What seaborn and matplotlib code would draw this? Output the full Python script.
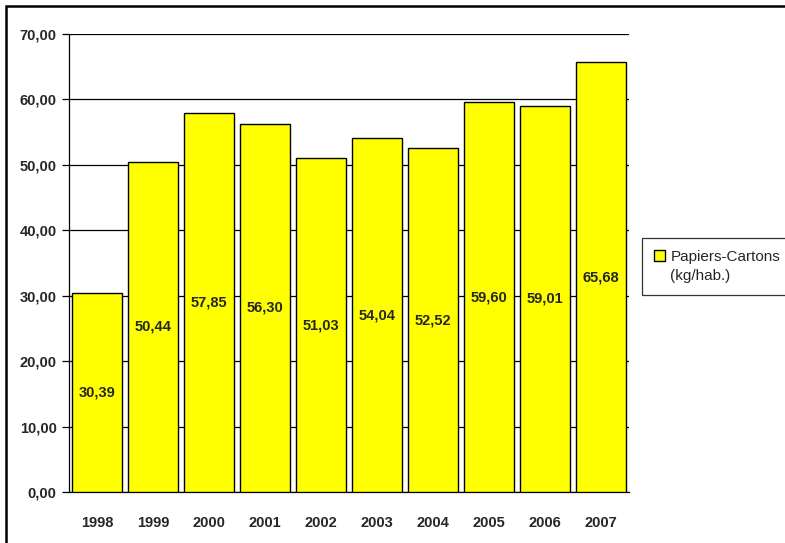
import matplotlib
matplotlib.use("Agg")
import matplotlib.pyplot as plt
import matplotlib.patches as mpatches
from matplotlib.ticker import FuncFormatter, FixedLocator
import seaborn as sns
import pandas as pd

years = ["1998", "1999", "2000", "2001", "2002", "2003", "2004", "2005", "2006", "2007"]
values = [30.39, 50.44, 57.85, 56.30, 51.03, 54.04, 52.52, 59.60, 59.01, 65.68]
series_name = "Papiers-Cartons"
series_unit = "(kg/hab.)"

df = pd.DataFrame({"year": years, "value": values})

sns.set_style("white")
plt.rcParams["font.family"] = ["Liberation Sans Narrow", "Liberation Sans", "DejaVu Sans"]

fig = plt.figure(figsize=(7.85, 5.43), dpi=100)
ax = fig.add_axes([0.0879, 0.0939, 0.7131, 0.8435])

sns.barplot(data=df, x="year", y="value", color="#ffff00", width=0.9,
            edgecolor="black", linewidth=1.0, saturation=1, ax=ax, zorder=3)

# value labels in the middle of each bar
for i, v in enumerate(values):
    ax.text(i, v / 2, f"{v:.2f}".replace(".", ","), ha="center", va="center",
            fontsize=10.5, fontweight="bold", zorder=4)

ax.set_ylim(0, 70)
ax.set_xlim(-0.5, len(years) - 0.5)
ax.set_yticks(range(0, 71, 10))
ax.yaxis.set_major_formatter(FuncFormatter(lambda y, _: f"{y:.2f}".replace(".", ",")))
ax.grid(axis="y", color="black", linewidth=0.9, zorder=0)
ax.set_axisbelow(True)

# ticks between categories
ax.xaxis.set_minor_locator(FixedLocator([i - 0.5 for i in range(len(years) + 1)]))
ax.tick_params(axis="x", which="major", length=0, pad=17, labelsize=10.5)
ax.tick_params(axis="x", which="minor", length=5, width=0.9, color="black", direction="out")
ax.tick_params(axis="y", length=5, width=0.9, color="black", direction="out", labelsize=10.5, pad=4)
for lab in ax.get_xticklabels() + ax.get_yticklabels():
    lab.set_fontweight("bold")
ax.tick_params(axis="both", bottom=True, left=True)

ax.set_xlabel("")
ax.set_ylabel("")
for side in ["top", "right"]:
    ax.spines[side].set_visible(False)
for side in ["left", "bottom"]:
    ax.spines[side].set_color("black")
    ax.spines[side].set_linewidth(0.9)

handle = mpatches.Patch(facecolor="#ffff00", edgecolor="black", linewidth=1, label=series_name)
blank = mpatches.Patch(facecolor="none", edgecolor="none", label=series_unit)
leg = fig.legend(handles=[handle, blank], loc="upper left", bbox_to_anchor=(0.818, 0.562),
                 frameon=True, fancybox=False, edgecolor="black", fontsize=11,
                 handlelength=0.7, handleheight=0.7, handletextpad=0.35, borderpad=0.8,
                 labelspacing=0.3, borderaxespad=0)
leg.get_frame().set_linewidth(0.9)

border = mpatches.Rectangle((6 / 785, -0.1), 1.2, 1 - 6 / 543 + 0.1, transform=fig.transFigure,
                            fill=False, edgecolor="black", linewidth=1.8)
fig.patches.append(border)

fig.savefig("out.png", dpi=100)
